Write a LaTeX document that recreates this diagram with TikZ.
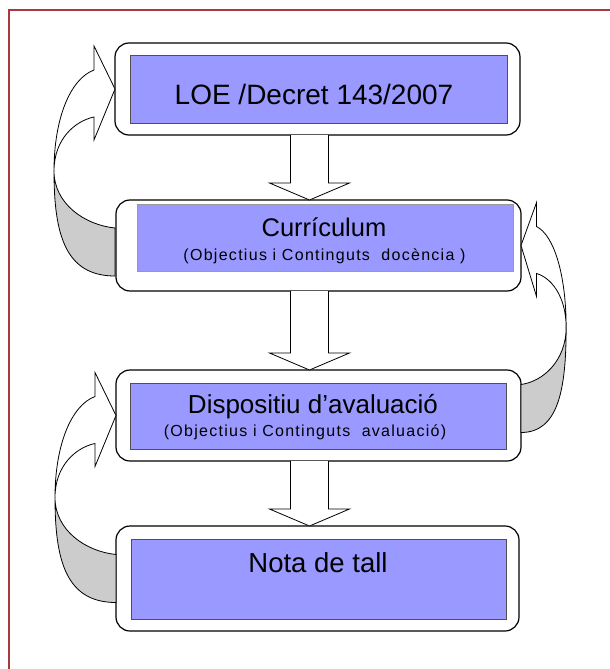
\documentclass[tikz,border=0pt]{standalone}
\usepackage{fontspec}
\setmainfont{Liberation Sans}
\usetikzlibrary{calc}
\definecolor{boxblue}{HTML}{9999FF}
\definecolor{framered}{HTML}{A8393F}
\definecolor{backgray}{HTML}{CCCCCC}
\definecolor{rimgray}{HTML}{505050}
\definecolor{rimlight}{HTML}{9A9A9A}
\newcommand\blockdown[2]{%
  \draw[blockarrow] ($(#1)+(-19,0)$) -- ($(#2)+(-19,-17)$) -- ($(#2)+(-40,-17)$) -- (#2)
    -- ($(#2)+(40,-17)$) -- ($(#2)+(19,-17)$) -- ($(#1)+(19,0)$);}
\newcommand\loopshape{%
  \draw[loopback] (61,82) .. controls (61,145) and (50,187) .. (0,187) -- (0,139)
    .. controls (30,136) and (61,115) .. (61,82) -- cycle;
  \draw[loopfront] (0,0) -- (21,-43) -- (21,-19) .. controls (45,-10) and (61,30) .. (61,82)
    .. controls (61,50) and (40,32) .. (21,28) -- (21,51) -- cycle;}
\begin{document}
\begin{tikzpicture}[x=1pt,y=-1pt,
  outerbox/.style={draw=black, line width=1.2pt, rounded corners=14pt, fill=white,
    minimum width=405pt, minimum height=91pt, inner sep=0pt, outer sep=0pt},
  innerbox/.style={draw=rimgray, line width=1pt, fill=boxblue, inner sep=0pt, outer sep=0pt},
  blockarrow/.style={draw=black, line width=0.8pt, fill=white, line join=miter},
  loopfront/.style={draw=black, line width=0.8pt, fill=white, line join=miter},
  loopback/.style={draw=black, line width=0.8pt, fill=backgray},
  bigtext/.style={inner sep=0pt, anchor=base},
  smalltext/.style={font=\fontsize{16pt}{18pt}\selectfont\addfontfeature{LetterSpace=8}, inner sep=0pt, anchor=base},
]
\useasboundingbox (0,0) rectangle (610,669);
\fill[white] (0,0) rectangle (610,669);
\draw[framered, line width=2.5pt] (9,669) -- (9,10) -- (610,10);

% boxes
\node[outerbox, minimum height=92pt] (b1) at (317.5,89) {};
\node[innerbox, minimum width=377pt, minimum height=67pt] (b1i) at (318.5,89.5) {};
\node[bigtext, font=\fontsize{28pt}{30pt}\selectfont] (t1) at (314,104) {LOE /Decret 143/2007};

\node[outerbox] (b2) at (318.5,245.5) {};
\node[innerbox, draw=rimlight, minimum width=376pt, minimum height=67pt] (b2i) at (325,237.5) {};
\node[bigtext, font=\fontsize{25.5pt}{28pt}\selectfont] (t2a) at (324,236) {Currículum};
\node[smalltext] (t2b) at (324.5,260) {(Objectius i Continguts\ \ docència )};

\node[outerbox] (b3) at (318.5,415.5) {};
\node[innerbox, minimum width=376pt, minimum height=66pt] (b3i) at (318,416) {};
\node[bigtext, font=\fontsize{26pt}{28pt}\selectfont] (t3a) at (313,413) {Dispositiu d’avaluació};
\node[smalltext] (t3b) at (305,436) {(Objectius i Continguts\ \ avaluació)};

\node[outerbox, minimum width=403pt, minimum height=105pt] (b4) at (317.5,578.5) {};
\node[innerbox, minimum width=375pt, minimum height=80pt] (b4i) at (318.5,579) {};
\node[bigtext, font=\fontsize{27.5pt}{30pt}\selectfont] (t4) at (318,572) {Nota de tall};

% straight block arrows
\coordinate (s1) at ($(b1.south)+(-8,0)$);
\coordinate (e1) at ($(b2.north)+(-9,0)$);
\coordinate (s2) at ($(b2.south)+(-9,0)$);
\coordinate (e2) at ($(b3.north)+(-9,0)$);
\coordinate (s3) at ($(b3.south)+(-9,0)$);
\coordinate (e3) at ($(b4.north)+(-8,0)$);
\blockdown{s1}{e1}
\blockdown{s2}{e2}
\blockdown{s3}{e3}

% curved feedback arrows
\begin{scope}[shift={(b1.west)}, xscale=-1]
  \loopshape
\end{scope}
\begin{scope}[shift={(b3.west)}, xscale=-1]
  \loopshape
\end{scope}
\begin{scope}[shift={(b2.east)}, xscale=0.74]
  \loopshape
\end{scope}
\end{tikzpicture}
\end{document}
